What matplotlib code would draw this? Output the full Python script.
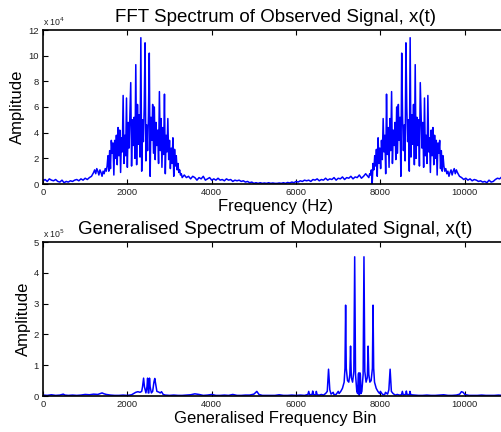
import numpy as np
import matplotlib
matplotlib.use("Agg")
import matplotlib.pyplot as plt

plt.rcParams['font.family'] = ['Liberation Sans', 'DejaVu Sans']

# ---------------- Top panel: FFT spectrum (amplitude in units of 1e4) ----------------
# frequency grids (Hz) for each section of the spectrum
f_noise_lo = np.arange(0, 1151, 50)
a_noise_lo = [0.25, 0.35, 0.2, 0.4, 0.3, 0.25, 0.35, 0.2, 0.15, 0.3, 0.1, 0.2,
              0.15, 0.25, 0.2, 0.3, 0.35, 0.25, 0.4, 0.3, 0.45, 0.35, 0.5, 0.6]

f_bump_lo = np.arange(1200, 1501, 25)
a_bump_lo = [0.9, 1.1, 0.8, 1.2, 1.0, 0.7, 1.1, 0.9, 0.6, 1.0, 0.8, 1.2, 1.0]

f_cluster_lo = np.arange(1520, 3301, 20)
a_cluster_lo = [1.4, 2.2, 1.0, 2.6, 1.2, 3.4, 2.4, 3.2, 0.7, 3.4,
                2.0, 3.8, 1.5, 4.4, 2.2, 4.2, 0.9, 3.6, 2.5, 6.9,
                1.6, 3.8, 2.2, 6.7, 1.3, 4.8, 2.8, 5.3, 7.9, 1.4,
                5.0, 3.0, 5.2, 2.0, 9.3, 1.5, 6.2, 3.1, 5.4, 2.1,
                11.4, 1.0, 5.0, 3.3, 6.0, 11.0, 1.8, 4.6, 2.6, 5.3,
                10.2, 0.6, 5.2, 3.4, 6.2, 2.4, 6.0, 1.9, 4.8, 3.0,
                4.2, 1.6, 7.2, 2.6, 5.1, 1.3, 4.4, 2.3, 7.0, 0.8,
                3.8, 2.5, 5.1, 1.9, 3.4, 1.2, 2.8, 1.6, 3.6, 0.6,
                2.7, 1.4, 2.2, 1.1, 1.6, 0.9, 1.1, 0.7, 0.8, 0.5]

f_noise_mid1 = np.arange(3350, 5501, 50)
a_noise_mid1 = [0.7, 0.5, 0.6, 0.4, 0.6, 0.5, 0.3, 0.5, 0.4, 0.6, 0.3, 0.4,
                0.5, 0.3, 0.4, 0.3, 0.45, 0.3, 0.35, 0.25, 0.4, 0.3, 0.35, 0.2,
                0.3, 0.25, 0.3, 0.2, 0.25, 0.15, 0.2, 0.1, 0.15, 0.05, 0.1, 0.05,
                0.1, 0.05, 0.08, 0.05, 0.1, 0.05, 0.08, 0.05]

f_noise_mid2 = np.arange(5550, 7701, 50)
a_noise_mid2 = [0.05, 0.08, 0.05, 0.1, 0.05, 0.12, 0.08, 0.15, 0.1, 0.2, 0.15,
                0.25, 0.2, 0.3, 0.25, 0.3, 0.2, 0.35, 0.3, 0.4, 0.25, 0.35,
                0.3, 0.45, 0.3, 0.4, 0.35, 0.5, 0.3, 0.45, 0.4, 0.55, 0.35,
                0.5, 0.45, 0.6, 0.4, 0.55, 0.5, 0.7, 0.45, 0.6, 0.8, 0.6]

f_cluster_hi = np.arange(7725, 9506, 20)
a_cluster_hi = [0.5, 0.8, 0.7, 1.1, 0.0, 1.6, 1.1, 2.2, 1.4, 2.7,
                0.6, 3.6, 1.6, 2.8, 1.2, 3.4, 1.9, 5.1, 2.5, 3.8,
                0.8, 7.0, 2.3, 4.4, 1.3, 5.1, 2.6, 7.2, 1.6, 4.2,
                3.0, 4.8, 1.9, 6.0, 2.4, 6.2, 3.4, 5.2, 0.6, 10.2,
                5.3, 2.6, 4.6, 1.8, 11.0, 6.0, 3.3, 5.0, 1.0, 11.4,
                2.1, 5.4, 3.1, 6.2, 1.5, 9.3, 2.0, 5.2, 3.0, 5.0,
                1.4, 7.9, 5.3, 2.8, 4.8, 1.3, 6.7, 2.2, 3.8, 1.6,
                6.9, 2.5, 3.6, 0.9, 4.2, 2.2, 4.4, 1.5, 3.8, 2.0,
                3.4, 0.7, 3.2, 2.4, 3.4, 1.2, 2.6, 1.0, 2.2, 1.4]

f_bump_hi = np.arange(9525, 9826, 25)
a_bump_hi = [1.0, 1.2, 0.8, 1.0, 0.6, 0.9, 1.1, 0.7, 1.0, 1.2, 0.8, 1.1, 0.9]

f_noise_hi = np.arange(9875, 11026, 50)
a_noise_hi = [0.6, 0.5, 0.35, 0.45, 0.3, 0.4, 0.25, 0.35, 0.3, 0.2, 0.25, 0.15,
              0.2, 0.1, 0.3, 0.15, 0.2, 0.35, 0.45, 0.4, 0.55, 0.4, 0.6, 0.5]

top_freq = np.concatenate([f_noise_lo, f_bump_lo, f_cluster_lo, f_noise_mid1,
                           f_noise_mid2, f_cluster_hi, f_bump_hi, f_noise_hi])
top_amp = np.concatenate([a_noise_lo, a_bump_lo, a_cluster_lo, a_noise_mid1,
                          a_noise_mid2, a_cluster_hi, a_bump_hi, a_noise_hi])

# ---------------- Bottom panel: generalised spectrum (amplitude in units of 1e5) ----------------
bot_bin = [0, 100, 200, 300, 400, 480, 520, 600, 700, 800, 900, 1000, 1100, 1200,
           1300, 1400, 1450, 1500, 1600, 1700, 1800, 1900, 2000, 2100, 2200, 2250,
           2300, 2340, 2360, 2385, 2405, 2440, 2465, 2480, 2495, 2510, 2525, 2540,
           2570, 2600, 2630, 2650, 2675, 2700, 2740, 2780, 2810, 2850, 2900, 3000,
           3100, 3200, 3300, 3400, 3500, 3600, 3700, 3800, 3900, 4000, 4100, 4200,
           4300, 4400, 4500, 4600, 4700, 4800, 4900, 5000, 5070, 5120, 5200, 5300,
           5400, 5500, 5600, 5700, 5800, 5900, 6000, 6100, 6200, 6280, 6300, 6320,
           6380, 6395, 6410, 6470, 6480, 6500, 6550, 6600, 6650, 6700, 6740, 6770,
           6800, 6830, 6880, 6900, 6950, 7000, 7020, 7060, 7100, 7140, 7160, 7175,
           7190, 7220, 7250, 7275, 7292, 7310, 7340, 7370, 7390, 7410, 7440, 7460,
           7475, 7485, 7500, 7515, 7525, 7540, 7560, 7590, 7610, 7630, 7660, 7690,
           7708, 7725, 7750, 7780, 7810, 7825, 7840, 7860, 7900, 7940, 7980, 8000,
           8050, 8100, 8120, 8170, 8200, 8230, 8260, 8300, 8350, 8400, 8450, 8500,
           8520, 8540, 8600, 8615, 8630, 8690, 8700, 8720, 8800, 8900, 9000, 9100,
           9200, 9300, 9400, 9500, 9600, 9700, 9800, 9880, 9920, 9960, 10000, 10100,
           10200, 10300, 10400, 10500, 10600, 10700, 10800, 10900, 11025]
bot_amp = [0.03, 0.02, 0.04, 0.02, 0.03, 0.06, 0.03, 0.02, 0.03, 0.02, 0.03, 0.05, 0.04, 0.06,
           0.05, 0.1, 0.07, 0.05, 0.03, 0.02, 0.02, 0.03, 0.02, 0.04, 0.12, 0.14,
           0.12, 0.15, 0.3, 0.58, 0.3, 0.1, 0.3, 0.58, 0.1, 0.1, 0.58, 0.3,
           0.1, 0.15, 0.45, 0.57, 0.35, 0.15, 0.13, 0.1, 0.14, 0.05, 0.03, 0.02,
           0.03, 0.02, 0.02, 0.03, 0.04, 0.07, 0.05, 0.02, 0.03, 0.05, 0.02, 0.02,
           0.03, 0.02, 0.05, 0.02, 0.02, 0.03, 0.03, 0.06, 0.15, 0.05, 0.02, 0.02,
           0.02, 0.02, 0.04, 0.02, 0.02, 0.03, 0.02, 0.03, 0.02, 0.05, 0.15, 0.04,
           0.05, 0.16, 0.05, 0.04, 0.15, 0.04, 0.03, 0.05, 0.03, 0.08, 0.15, 0.87,
           0.2, 0.06, 0.12, 0.04, 0.05, 0.15, 0.08, 0.15, 0.25, 0.45, 0.9, 2.95,
           0.9, 0.5, 0.45, 0.7, 1.62, 0.6, 0.45, 0.8, 4.52, 0.7, 0.15, 0.08,
           0.7, 0.75, 0.02, 0.75, 0.7, 0.08, 0.15, 0.7, 4.52, 0.8, 0.45, 0.6,
           1.62, 0.7, 0.45, 0.5, 0.9, 2.95, 0.9, 0.45, 0.25, 0.15, 0.08, 0.15,
           0.05, 0.04, 0.12, 0.06, 0.2, 0.87, 0.15, 0.08, 0.03, 0.05, 0.03, 0.04,
           0.15, 0.04, 0.05, 0.16, 0.05, 0.04, 0.15, 0.04, 0.03, 0.02, 0.02, 0.03,
           0.02, 0.02, 0.03, 0.04, 0.02, 0.02, 0.03, 0.06, 0.14, 0.12, 0.05, 0.02,
           0.02, 0.02, 0.03, 0.02, 0.02, 0.02, 0.03, 0.02, 0.02]

x_ticks = [0, 2000, 4000, 6000, 8000, 10000]
top_yticks = [0, 2, 4, 6, 8, 10, 12]
bot_yticks = [0, 1, 2, 3, 4, 5]

W, H = 502, 432
fig = plt.figure(figsize=(W / 100, H / 100), dpi=100)
ax1 = fig.add_axes([43 / W, (H - 184) / H, 465 / W, 154 / H])
ax2 = fig.add_axes([43 / W, (H - 396) / H, 465 / W, 154 / H])

blue = (0, 0, 1)
ax1.plot(top_freq, top_amp, color=blue, lw=1.1)
ax2.plot(bot_bin, bot_amp, color=blue, lw=1.1)

def style(ax, yticks, ymax, expo, title, xlabel):
    ax.set_xlim(0, 11025)
    ax.set_ylim(0, ymax)
    ax.set_xticks(x_ticks)
    ax.set_yticks(yticks)
    ax.tick_params(direction='in', length=3.5, width=0.8, labelsize=6.8,
                   top=True, right=True, colors='black', labelcolor='#222222', pad=3)
    for s in ax.spines.values():
        s.set_linewidth(1.2)
    ax.set_title(title, fontsize=13.5, pad=6)
    ax.set_xlabel(xlabel, fontsize=12, labelpad=1)
    ax.set_ylabel('Amplitude', fontsize=12, labelpad=2)
    ax.text(0.0, 1.012, r'x 10$^{%d}$' % expo, transform=ax.transAxes,
            fontsize=6.3, color='#222222', ha='left', va='bottom')

style(ax1, top_yticks, 12, 4, 'FFT Spectrum of Observed Signal, x(t)', 'Frequency (Hz)')
style(ax2, bot_yticks, 5, 5, 'Generalised Spectrum of Modulated Signal, x(t)',
      'Generalised Frequency Bin')

fig.savefig('out.png', dpi=100)
